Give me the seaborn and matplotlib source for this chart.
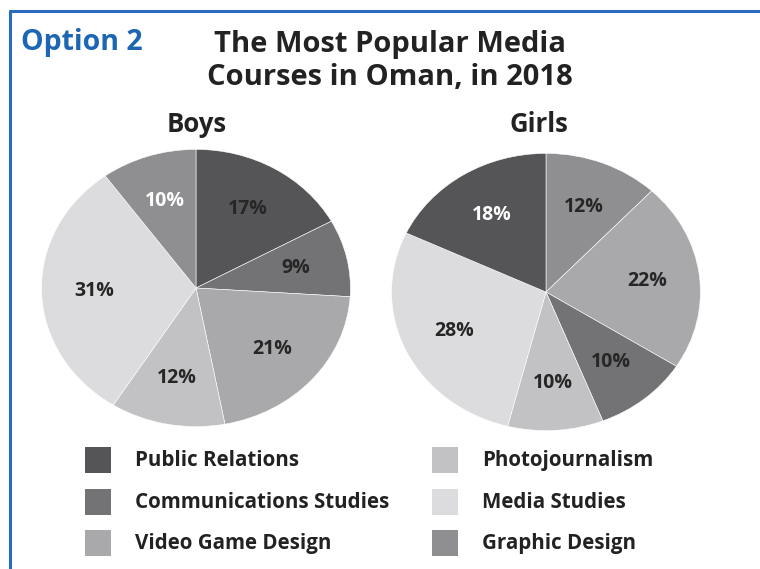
import matplotlib
matplotlib.use("Agg")
import matplotlib.pyplot as plt
from matplotlib.patches import Rectangle
from matplotlib.lines import Line2D
import seaborn as sns

# datos
cursos = ['Public Relations', 'Communications Studies', 'Video Game Design',
          'Photojournalism', 'Media Studies', 'Graphic Design']
colores = ['#555557', '#737375', '#a9a9ab', '#c2c2c4', '#dcdcde', '#8f8f91']

# orden horario desde las 12
orden_boys = ['Public Relations', 'Communications Studies', 'Video Game Design',
              'Photojournalism', 'Media Studies', 'Graphic Design']
valores_boys = [17, 9, 21, 12, 31, 10]

orden_girls = ['Graphic Design', 'Video Game Design', 'Communications Studies',
               'Photojournalism', 'Media Studies', 'Public Relations']
valores_girls = [12, 22, 10, 10, 28, 18]

etiquetas_blancas_boys = ['Graphic Design']
etiquetas_blancas_girls = ['Public Relations']

sns.set_theme(style='white')
plt.rcParams['font.family'] = ['Open Sans', 'DejaVu Sans']

W, H = 760, 569
fig = plt.figure(figsize=(W / 100, H / 100), dpi=100)
fig.patch.set_facecolor('white')


def px(x, y):
    return x / W, 1 - y / H


def dibujar_pie(ax, orden, valores, blancas):
    color_de = dict(zip(cursos, colores))
    wedges, textos, autotextos = ax.pie(
        valores, colors=[color_de[c] for c in orden], startangle=90,
        counterclock=False, autopct='%d%%', pctdistance=0.66,
        wedgeprops=dict(edgecolor='white', linewidth=0.4),
        textprops=dict(fontsize=14, fontweight='bold', color='#262626'))
    for c, t in zip(orden, autotextos):
        if c in blancas:
            t.set_color('white')
    ax.set_aspect('auto')
    ax.set_xlim(-1.01, 1.01)
    ax.set_ylim(-1.01, 1.01)
    ax.axis('off')


# pie chicos
ax1 = fig.add_axes([40 / W, 1 - 428 / H, 312 / W, 280 / H])
dibujar_pie(ax1, orden_boys, valores_boys, etiquetas_blancas_boys)
# pie chicas
ax2 = fig.add_axes([390 / W, 1 - 432 / H, 312 / W, 280 / H])
dibujar_pie(ax2, orden_girls, valores_girls, etiquetas_blancas_girls)

# titulos
fig.text(*px(390, 52), 'The Most Popular Media', ha='center', va='baseline',
         fontsize=21, fontweight='bold', color='#222222')
fig.text(*px(390, 85), 'Courses in Oman, in 2018', ha='center', va='baseline',
         fontsize=21, fontweight='bold', color='#222222')
fig.text(*px(21, 50), 'Option 2', ha='left', va='baseline',
         fontsize=20.5, fontweight='bold', color='#1d66b3')
fig.text(*px(197, 132), 'Boys', ha='center', va='baseline',
         fontsize=18.5, fontweight='bold', color='#222222')
fig.text(*px(539, 132), 'Girls', ha='center', va='baseline',
         fontsize=18.5, fontweight='bold', color='#222222')

# borde azul
fig.add_artist(Line2D([10 / W, 1], [1 - 11 / H, 1 - 11 / H], color='#2a6bbd', linewidth=2.2))
fig.add_artist(Line2D([10 / W, 10 / W], [0, 1 - 11 / H], color='#2a6bbd', linewidth=2.2))

# leyenda manual en dos columnas
for i, (curso, color) in enumerate(zip(cursos, colores)):
    col, fila = divmod(i, 3)
    x0 = 85 + col * 347
    y0 = 447 + fila * 41.5
    fig.add_artist(Rectangle(px(x0, y0 + 26), 26 / W, 26 / H, facecolor=color,
                             edgecolor='none', transform=fig.transFigure))
    fig.text(*px(x0 + 50, y0 + 19), curso, ha='left', va='baseline',
             fontsize=14.8, fontweight='bold', color='#222222')

fig.savefig('out.png', dpi=100)
